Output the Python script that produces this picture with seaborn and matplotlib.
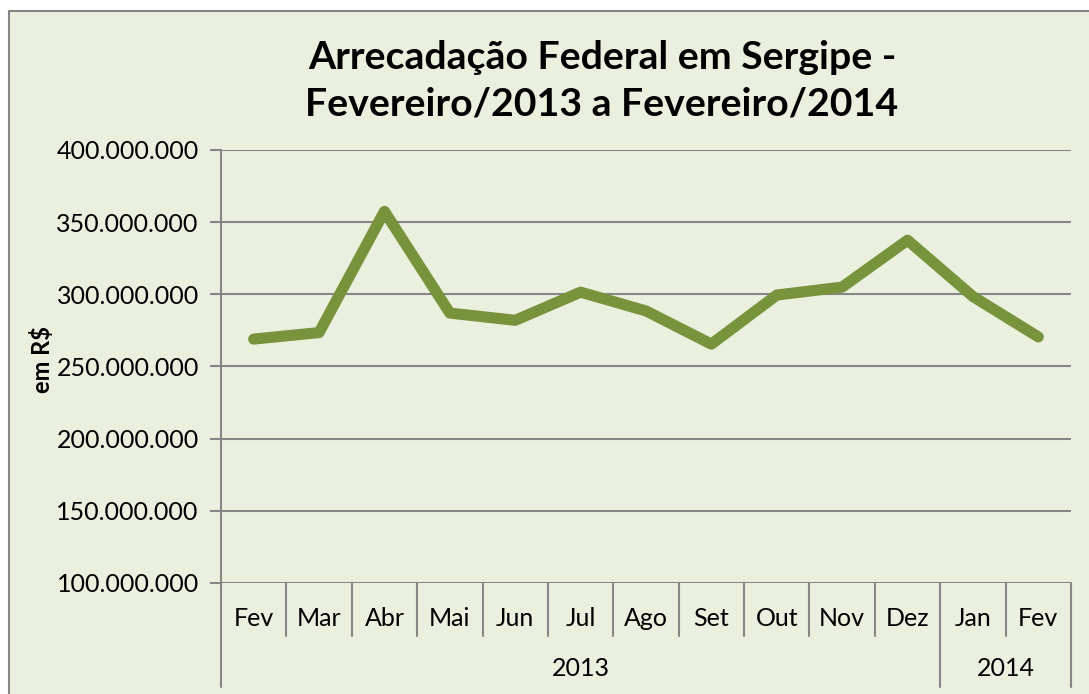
import matplotlib
matplotlib.use("Agg")
import matplotlib.pyplot as plt
import matplotlib.transforms as mtransforms
from matplotlib.patches import Rectangle
import seaborn as sns
import pandas as pd

# ---- data ----
months = ["Fev", "Mar", "Abr", "Mai", "Jun", "Jul", "Ago", "Set", "Out", "Nov", "Dez", "Jan", "Fev"]
years = ["2013", "2014"]
year_spans = [(0, 10), (11, 12)]  # first and last month index for each year
values = [269_000_000, 273_500_000, 357_500_000, 287_000_000, 282_000_000, 301_500_000,
          288_500_000, 265_500_000, 299_500_000, 305_000_000, 337_500_000, 298_500_000, 270_500_000]
y_ticks = [100_000_000, 150_000_000, 200_000_000, 250_000_000, 300_000_000, 350_000_000, 400_000_000]
title = "Arrecadação Federal em Sergipe -\nFevereiro/2013 a Fevereiro/2014"
ylabel = "em R\\$"

df = pd.DataFrame({"idx": list(range(len(months))), "valor": values})

sns.set_theme(style="white")
plt.rcParams["font.family"] = ["Lato", "DejaVu Sans"]
plt.rcParams["text.color"] = "black"

W, H = 1089, 694
bg = "#EBF0DE"
grid_c = "#868686"
line_c = "#77933C"
fs = 18

fig = plt.figure(figsize=(W / 100, H / 100), dpi=100)
fig.patch.set_facecolor("white")
frame = Rectangle((9 / W, -0.05), 1.1, (H - 11) / H + 0.05, transform=fig.transFigure,
                  facecolor=bg, edgecolor=grid_c, linewidth=1.5, zorder=-10)
fig.add_artist(frame)

left, right, top, bottom = 221, 1071, 150, 583
ax = fig.add_axes([left / W, 1 - bottom / H, (right - left) / W, (bottom - top) / H])
ax.set_facecolor("none")
ax.set_zorder(1)

sns.lineplot(data=df, x="idx", y="valor", ax=ax, color=line_c, linewidth=8,
             solid_capstyle="round", solid_joinstyle="round", zorder=3)

ax.set_xlim(-0.5, len(months) - 0.5)
ax.set_ylim(y_ticks[0], y_ticks[-1])
ax.set_yticks(y_ticks)
ax.set_yticklabels([f"{v:,.0f}".replace(",", ".") for v in y_ticks], fontsize=fs, color="black")
ax.tick_params(axis="y", which="major", length=8, width=1.5, color=grid_c, left=True, pad=8)
ax.set_xticks([])
ax.set_xlabel("")
ax.set_ylabel("")
ax.yaxis.grid(True, color=grid_c, linewidth=1.5)
ax.set_axisbelow(True)
for s in ["top", "right", "bottom"]:
    ax.spines[s].set_visible(False)
ax.spines["left"].set_color(grid_c)
ax.spines["left"].set_linewidth(1.5)

# two-level category axis
trans = mtransforms.blended_transform_factory(ax.transData, ax.transAxes)
ph = bottom - top
short = -(636 - bottom) / ph
long_ = -(687 - bottom) / ph
boundaries = {s - 0.5 for s, e in year_spans} | {e + 0.5 for s, e in year_spans}
for i in range(len(months) + 1):
    x = i - 0.5
    y1 = long_ if x in boundaries else short
    ax.plot([x, x], [0, y1], transform=trans, color=grid_c, linewidth=1.5, clip_on=False)
for i, m in enumerate(months):
    ax.text(i, -(619 - bottom) / ph, m, transform=trans, ha="center", va="center",
            fontsize=fs, color="black")
for (s, e), yr in zip(year_spans, years):
    ax.text((s + e) / 2, -(668 - bottom) / ph, yr, transform=trans, ha="center", va="center",
            fontsize=fs, color="black")

fig.text(602 / W, 1 - 81 / H, title, ha="center", va="center", fontsize=28.3, fontweight="bold",
         linespacing=1.4, multialignment="center", color="black")
fig.text(42 / W, 1 - 360 / H, ylabel, ha="center", va="center", rotation=90, fontsize=17,
         fontweight="bold", color="black")

fig.savefig("out.png", dpi=100, facecolor=fig.get_facecolor())
